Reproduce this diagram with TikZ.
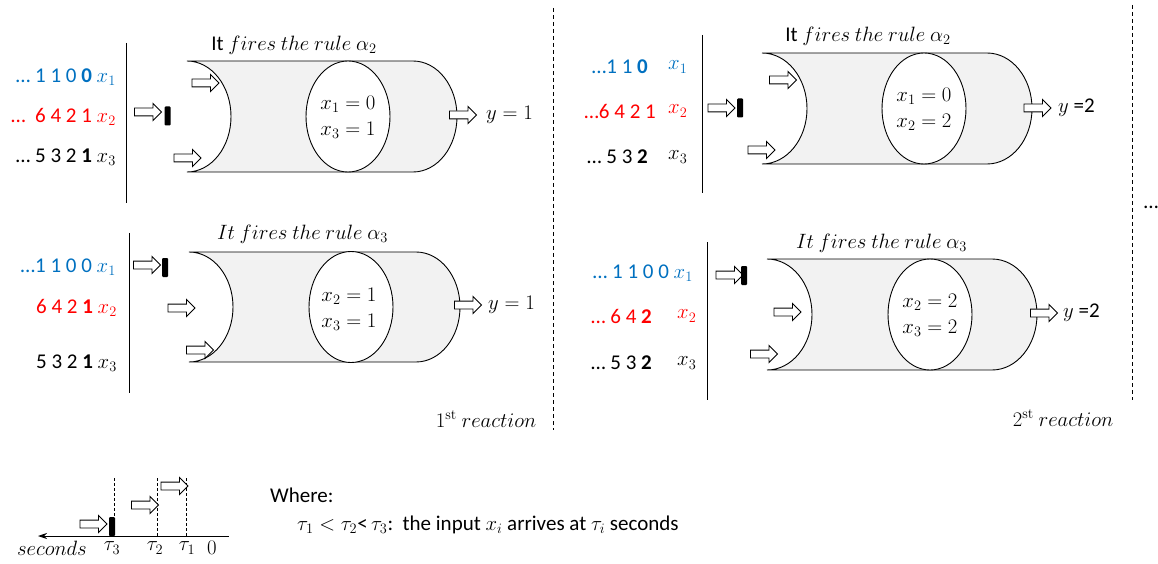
\documentclass[tikz,border=0pt]{standalone}
\usepackage[no-math]{fontspec}
\setmainfont{Carlito}
\usepackage{amsmath}
\usepackage{xcolor}
\usetikzlibrary{positioning, arrows.meta, shapes.geometric, shapes.arrows}

\definecolor{inblue}{RGB}{0,112,192}
\definecolor{inred}{RGB}{255,0,0}
\definecolor{tubegray}{RGB}{242,242,242}

\begin{document}
\begin{tikzpicture}[
    x=1pt, y=1pt,
    every node/.style={font=\fontsize{21}{26}\selectfont},
    inarrow/.style={single arrow, draw=black, fill=white, line width=0.9pt, inner xsep=0pt, inner ysep=3.5pt, minimum height=27pt, minimum width=16pt, single arrow head extend=4.5pt},
    block/.style={rectangle, fill=black, rounded corners=1pt, minimum width=6pt, minimum height=19pt, inner sep=0pt},
    rulebox/.style={ellipse, draw=black, fill=white, line width=0.9pt, minimum width=84pt, minimum height=111pt, inner sep=0pt},
    tube/.style={fill=tubegray, draw=black, line width=0.9pt},
    splitline/.style={draw=black, line width=0.8pt, dash pattern=on 4pt off 3pt},
    guide/.style={draw=black, line width=0.6pt, dash pattern=on 3pt off 2pt},
    numrow/.style={anchor=east, inner sep=0pt},
    xlab/.style={anchor=west, inner sep=0pt},
    eqs/.style={align=left, inner sep=0pt}
]
\useasboundingbox (0,0) rectangle (1158,563);

% Tubes
\filldraw[tube] (187,502) -- (413,502) arc[start angle=90, end angle=-90, x radius=44, y radius=55.5] -- (187,391) arc[start angle=-90, end angle=90, x radius=44, y radius=55.5] -- cycle;
\filldraw[tube] (189,311) -- (416,311) arc[start angle=90, end angle=-90, x radius=44, y radius=55] -- (189,201) arc[start angle=-90, end angle=90, x radius=44, y radius=55] -- cycle;
\filldraw[tube] (762,510) -- (987,510) arc[start angle=90, end angle=-90, x radius=45, y radius=55.5] -- (762,399) arc[start angle=-90, end angle=90, x radius=45, y radius=55.5] -- cycle;
\filldraw[tube] (767,304) -- (992,304) arc[start angle=90, end angle=-90, x radius=45, y radius=55.5] -- (767,193) arc[start angle=-90, end angle=90, x radius=45, y radius=55.5] -- cycle;

% Rules
\node[rulebox] (ruleA) at (348,446.5) {};
\node[eqs] at (348,446) {$x_1 = 0$\\$x_3 = 1$};
\node[rulebox] (ruleB) at (351,256) {};
\node[eqs] at (349,253.5) {$x_2 = 1$\\$x_3 = 1$};
\node[rulebox] (ruleC) at (924,454.5) {};
\node[eqs] at (924,453.5) {$x_1 = 0$\\$x_2 = 2$};
\node[rulebox] (ruleD) at (930,248.5) {};
\node[eqs] at (930,248) {$x_2 = 2$\\$x_3 = 2$};

% Titles
\node (titleA) at (294,518) {It $fires\ the\ rule\ \alpha_2$};
\node (titleB) at (302.5,329) {$It\ fires\ the\ rule\ \alpha_3$};
\node (titleC) at (868,527) {It $fires\ the\ rule\ \alpha_2$};
\node (titleD) at (881.5,320) {$It\ fires\ the\ rule\ \alpha_3$};

% Input streams, 1st reaction
\node[numrow, text=inblue] (a1) at (116,486) {… 1 1 0 \textbf{0} $x_1$};
\node[numrow, text=inred] (a2) at (116,446) {…\ \ 6 4 2 1 $x_2$};
\node[numrow] (a3) at (116,406) {… 5 3 2 \textbf{1} $x_3$};
\draw[line width=0.9pt] (126,520) -- (126,360);
\node[numrow, text=inblue] (b1) at (116,296) {…1 1 0 0 $x_1$};
\node[numrow, text=inred] (b2) at (117,255) {6 4 2 \textbf{1} $x_2$};
\node[numrow] (b3) at (117,200) {5 3 2 \textbf{1} $x_3$};
\draw[line width=0.9pt] (129,330) -- (129,170);

% Input streams, 2nd reaction
\node[numrow, text=inblue] (c1) at (648,496) {…1 1 \textbf{0}};
\node[xlab, text=inblue] (c1x) at (668,496) {$x_1$};
\node[numrow, text=inred] (c2) at (656,452) {…6 4 2 1};
\node[xlab, text=inred] (c2x) at (668,452) {$x_2$};
\node[numrow] (c3) at (648,406) {… 5 3 \textbf{2}};
\node[xlab] (c3x) at (668,406) {$x_3$};
\draw[line width=0.9pt] (702,528) -- (702,370);
\node[numrow, text=inblue] (d1) at (693,290) {… 1 1 0 0 $x_1$};
\node[numrow, text=inred] (d2) at (652,247) {… 6 4 \textbf{2}};
\node[xlab, text=inred] (d2x) at (677,247) {$x_2$};
\node[numrow] (d3) at (652,200) {… 5 3 \textbf{2}};
\node[xlab] (d3x) at (677,200) {$x_3$};
\draw[line width=0.9pt] (707,321) -- (707,163);

% Arriving inputs
\node[inarrow] (inA) at (146,451) {};
\node[block] (barA) at (167.5,447) {};
\node[inarrow] (inB) at (145,298) {};
\node[block] (barB) at (165,295.5) {};
\node[inarrow] (inC) at (719.5,455) {};
\node[block] (barC) at (740,455) {};
\node[inarrow] (inD) at (727.5,288) {};
\node[block] (barD) at (744,287.5) {};

% Inputs in the tubes
\node[inarrow] at (203.5,480) {};
\node[inarrow] at (185.5,405) {};
\node[inarrow] at (179.5,255) {};
\node[inarrow] at (198,213) {};
\node[inarrow] at (781,483) {};
\node[inarrow] at (759.5,413) {};
\node[inarrow] at (785.5,251) {};
\node[inarrow] at (762,209) {};

% Outputs
\node[inarrow] (outA) at (461,448) {};
\node[xlab] (yA) at (486,448) {$y = 1$};
\node[inarrow] (outB) at (466,258) {};
\node[xlab] (yB) at (488,258) {$y = 1$};
\node[inarrow] (outC) at (1035.5,455) {};
\node[xlab] (yC) at (1058,455) {$y$ =2};
\node[inarrow] (outD) at (1042,250) {};
\node[xlab] (yD) at (1063,250) {$y$ =2};

% Reactions
\node (reac1) at (486,144) {$1^{\mathrm{st}}\ reaction$};
\node (reac2) at (1063,145) {$2^{\mathrm{st}}\ reaction$};
\draw[splitline] (553,555) -- (553,133);
\draw[splitline] (1132,558) -- (1132,163);
\node (more) at (1151,356) {…};

% Time line
\coordinate (axL) at (38,27);
\coordinate (axR) at (229,27);
\draw[{Stealth[length=9pt, width=6pt]}-, line width=0.9pt] (axL) -- (axR);
\node (sec) at (52,15) {$seconds$};
\node (t3) at (112,15) {$\tau_3$};
\node (t2) at (155,15) {$\tau_2$};
\node (t1) at (187,15) {$\tau_1$};
\node (zero) at (212,15) {$0$};
\node[block] (barT) at (112,36.5) {};
\coordinate (g3) at (114,85);
\coordinate (g2) at (157,85);
\coordinate (g1) at (186,85);
\draw[guide] (g3) -- (barT.north -| g3);
\draw[guide] (g2) -- (g2 |- axL);
\draw[guide] (g1) -- (g1 |- axL);
\node[inarrow] (tin3) at (91.5,39) {};
\node[inarrow] (tin2) at (143,58) {};
\node[inarrow] (tin1) at (172.5,77) {};

% Legend
\node[xlab] (where) at (270,68) {Where:};
\node[xlab] (order) at (297,38) {$\tau_1 < \tau_2$<$\,\tau_3$:\ \ the input $x_i$ arrives at $\tau_i$ seconds};

\end{tikzpicture}
\end{document}
